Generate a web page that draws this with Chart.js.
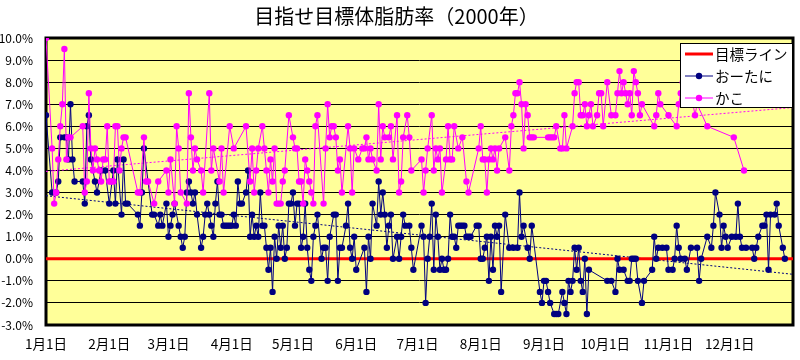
<!DOCTYPE html>
<html>
<head>
<meta charset="utf-8">
<script src="https://cdn.jsdelivr.net/npm/chart.js@4/dist/chart.umd.min.js"></script>
<style>
  html, body { margin: 0; padding: 0; background: #fff; }
</style>
</head>
<body>
<canvas id="fatChart" width="800" height="360"></canvas>
<script>
// x axis: day of year 2000 (0 = 1月1日)
const monthStartDays = [0, 31, 60, 91, 121, 152, 182, 213, 244, 274, 305, 335];
const monthLabels = ['1月1日', '2月1日', '3月1日', '4月1日', '5月1日', '6月1日',
                     '7月1日', '8月1日', '9月1日', '10月1日', '11月1日', '12月1日'];
const yTickMin = -3;
const yTickMax = 10;
const goalValue = 0; // 目標ライン

// おーたに
const otaniDays = [0, 3, 5, 6, 7, 9, 10, 11, 12, 13, 14, 18, 19, 20, 21, 22, 24, 25, 27, 29, 31, 33, 34, 35, 37, 38, 39, 40,
  45, 46, 47, 48, 52, 53, 55, 56, 57, 59, 60, 61, 62, 63, 65, 66, 67, 68, 69, 70, 71, 72, 73, 74, 76, 77, 78, 79, 80,
  81, 82, 83, 84, 85, 86, 87, 88, 89, 90, 91, 92, 93, 94, 95, 96, 98, 99, 100, 101, 102, 103, 104, 105, 106, 107, 108,
  109, 110, 111, 112, 113, 114, 115, 116, 117, 118, 119, 120, 121, 122, 123, 124, 125, 126, 127, 128, 129, 130, 131,
  132, 133, 135, 136, 137, 138, 139, 141, 142, 143, 144, 145, 147, 148, 149, 150, 151, 152, 156, 157, 158, 159, 160,
  162, 163, 164, 165, 166, 167, 168, 169, 170, 172, 173, 174, 175, 176, 178, 179, 180, 184, 185, 186, 187, 188, 189,
  190, 191, 192, 193, 194, 195, 196, 197, 198, 199, 200, 201, 202, 203, 204, 205, 206, 207, 208, 211, 212, 213, 214,
  215, 216, 217, 218, 219, 220, 221, 222, 223, 225, 227, 229, 231, 232, 233, 234, 236, 237, 238, 242, 243, 244, 245,
  246, 247, 249, 250, 251, 253, 254, 255, 256, 257, 258, 259, 260, 261, 262, 263, 264, 265, 266, 275, 277, 279, 280,
  281, 283, 285, 286, 287, 288, 289, 290, 292, 293, 297, 298, 299, 300, 302, 304, 305, 307, 308, 309, 310, 311, 313,
  314, 316, 319, 320, 321, 324, 326, 327, 328, 330, 331, 332, 333, 334, 336, 338, 339, 340, 341, 343, 346, 347, 348,
  349, 351, 352, 353, 354, 355, 357, 358, 359, 361, 362];
const otaniPct = [6.5, 3.0, 3.0, 3.5, 5.5, 5.5, 5.5, 4.5, 7.0, 4.5, 3.5, 3.5, 2.5, 6.0, 6.5, 4.5, 3.5, 3.0, 4.0, 4.0, 2.5, 4.0, 2.5, 4.5, 2.0, 4.5, 2.5, 2.5,
  2.0, 1.5, 3.0, 5.0, 2.0, 2.0, 1.5, 2.0, 1.5, 2.5, 1.0, 1.5, 2.0, 2.5, 1.5, 1.0, 0.5, 1.0, 3.0, 3.5, 3.0, 2.5, 3.0, 2.0, 0.5, 1.0, 2.0, 2.5, 2.0,
  1.5, 1.0, 2.5, 3.5, 2.0, 2.0, 1.5, 1.5, 1.5, 1.5, 1.5, 2.0, 1.5, 3.5, 2.5, 2.5, 3.0, 4.0, 1.0, 2.0, 1.0, 1.5, 1.0, 3.0, 1.5, 1.5, 0.5,
  -0.5, 0.5, -1.5, 1.0, 0.0, 1.5, 0.5, 1.5, 0.0, 0.5, 2.5, 2.5, 3.0, 1.5, 2.5, 2.5, 0.5, 1.0, 2.5, 0.5, -0.5, -1.0, 1.0,
  1.5, 2.0, 0.0, 0.5, 0.5, -1.0, 1.0, 2.0, 2.0, -1.0, 0.5, 0.5, 1.5, 2.5, 0.5, 0.0, 1.0, -0.5, 0.5, -1.5, 1.0, 0.0, 2.5,
  1.5, 3.5, 2.0, 3.0, 2.0, 0.5, 1.5, 2.0, 0.0, 1.0, 0.0, 1.0, 2.0, 1.5, 1.5, 0.5, -0.5, 1.5, 1.0, -2.0, 0.0, 1.0, 2.5,
  -0.5, 2.0, 1.0, -0.5, 0.0, -0.5, -0.5, 0.0, 2.0, 1.0, 1.0, 0.5, 1.5, 1.5, 1.5, 1.5, 1.0, 1.0, 1.0, 1.5, 1.5, 0.0, 0.0,
  0.5, 1.0, -1.0, 1.0, -0.5, 1.5, 1.0, 1.5, -1.5, 2.0, 0.5, 0.5, 0.5, 3.0, 1.0, 1.5, 0.5, 0.0, 1.5, -1.5, -2.0, -1.0, -1.0,
  -1.5, -2.0, -2.5, -2.5, -2.5, -1.5, -2.0, -2.5, -1.0, -1.5, -1.0, 0.5, -0.5, 0.5, -1.0, -1.5, 0.0, -2.5, -0.5, -1.0, -1.0, -1.5, 0.0,
  -0.5, -0.5, -1.0, -1.0, 0.0, 0.0, 0.0, -1.0, -2.0, -1.0, -0.5, 1.0, 0.0, 0.5, 0.5, 0.5, -0.5, -0.5, 0.0, 1.5, 0.5, 0.0, 0.0,
  -0.5, 0.5, 0.5, -1.0, 0.0, 1.0, 0.5, 1.5, 3.0, 2.0, 0.5, 1.5, 1.0, 0.5, 1.0, 1.0, 2.5, 1.0, 0.5, 0.5, 0.5, 0.0, 0.5,
  1.0, 1.5, 1.5, 2.0, -0.5, 2.0, 2.0, 2.5, 1.5, 0.5, 0.0];

// かこ
const kakoDays = [0, 3, 4, 5, 6, 7, 8, 9, 10, 11, 12, 18, 19, 20, 21, 22, 23, 24, 25, 26, 27, 28, 29, 30, 31, 32, 33, 34, 35,
  36, 37, 38, 39, 45, 46, 48, 49, 50, 53, 55, 59, 60, 61, 63, 64, 65, 66, 69, 70, 71, 72, 73, 74, 76, 77, 80, 81, 82,
  85, 86, 87, 90, 92, 98, 100, 101, 102, 103, 104, 106, 107, 108, 109, 110, 111, 112, 113, 114, 115, 116, 117, 119,
  121, 122, 123, 124, 125, 126, 127, 128, 129, 130, 131, 132, 133, 136, 137, 138, 139, 140, 141, 142, 143, 144, 145,
  148, 149, 150, 151, 153, 155, 156, 157, 158, 159, 160, 162, 163, 164, 165, 166, 168, 169, 170, 172, 173, 174, 175,
  177, 178, 179, 184, 185, 186, 187, 189, 190, 191, 192, 193, 194, 196, 197, 198, 199, 200, 202, 204, 206, 207, 212,
  213, 214, 215, 216, 217, 218, 219, 220, 221, 222, 225, 227, 228, 229, 230, 231, 232, 233, 234, 235, 236, 237, 238,
  239, 246, 247, 248, 249, 250, 252, 253, 254, 255, 258, 259, 260, 261, 262, 263, 264, 265, 266, 267, 268, 270, 271,
  272, 273, 275, 277, 279, 280, 281, 282, 283, 284, 285, 286, 287, 288, 289, 290, 291, 292, 298, 299, 300, 301, 305,
  309, 310, 311, 312, 315, 317, 318, 319, 324, 337, 342];
const kakoPct = [10.0, 5.0, 2.5, 3.0, 4.5, 6.0, 7.0, 9.5, 4.5, 5.5, 5.5, 6.0, 3.0, 3.5, 7.5, 5.0, 4.0, 5.0, 4.5, 4.0, 3.5, 4.5, 4.5, 6.0, 3.5, 3.5, 3.5, 6.0, 6.0,
  4.0, 5.0, 5.5, 5.5, 3.0, 3.0, 5.5, 3.5, 3.5, 2.5, 3.5, 4.0, 3.0, 4.5, 2.5, 6.0, 5.0, 3.0, 2.5, 7.5, 5.5, 4.0, 5.0, 4.5, 4.0, 3.0, 7.5, 4.0, 5.0,
  3.5, 5.0, 3.0, 6.0, 5.0, 6.0, 3.5, 5.0, 3.0, 4.0, 5.0, 6.0, 5.0, 4.0, 3.0, 4.5, 3.5, 5.0, 2.5, 2.5, 2.5, 3.5, 4.0, 6.5,
  5.5, 5.0, 5.0, 3.5, 3.5, 2.5, 4.5, 4.0, 3.5, 3.0, 2.5, 6.0, 6.5, 2.5, 5.0, 7.0, 5.5, 6.0, 6.0, 5.5, 4.0, 4.5, 3.0,
  6.0, 5.0, 3.0, 5.0, 4.5, 5.0, 5.0, 5.5, 4.5, 5.0, 4.5, 4.0, 7.0, 4.5, 6.0, 5.5, 5.5, 6.0, 4.5, 6.5, 3.0, 3.5, 5.5,
  6.5, 5.5, 4.0, 4.5, 3.0, 4.0, 5.0, 6.5, 4.0, 5.0, 4.5, 5.0, 3.0, 4.5, 6.0, 4.5, 4.5, 6.0, 5.0, 5.5, 3.5, 3.0, 5.0,
  6.0, 4.5, 4.5, 3.0, 4.5, 5.0, 4.5, 5.0, 4.0, 5.0, 5.5, 4.0, 6.0, 6.5, 7.5, 7.5, 8.0, 7.0, 5.0, 7.0, 6.5, 5.5, 5.5,
  5.5, 5.5, 5.5, 5.5, 5.5, 6.0, 5.0, 5.0, 6.5, 5.0, 6.0, 7.5, 8.0, 8.0, 6.5, 6.5, 7.0, 6.0, 6.5, 7.0, 6.0, 6.5, 7.5,
  7.5, 6.0, 8.0, 6.5, 6.5, 7.5, 8.5, 7.5, 8.0, 7.5, 7.0, 7.5, 6.5, 8.5, 8.0, 7.5, 6.5, 7.0, 6.0, 6.5, 7.5, 7.0, 6.5,
  6.0, 7.0, 7.5, 8.0, 7.5, 7.0, 6.5, 7.0, 6.0, 5.5, 4.0];

const NAVY = '#000080';
const MAGENTA = '#FF00FF';
const GOAL_RED = '#FF0000';

function toPoints(days, values) {
    return days.map((d, i) => ({ x: d, y: values[i] }));
}

// least squares trend line, drawn across the whole axis like Excel does
function trendPoints(days, values, x0, x1) {
    const n = days.length;
    let sx = 0, sy = 0, sxx = 0, sxy = 0;
    for (let i = 0; i < n; i++) {
        sx += days[i];
        sy += values[i];
        sxx += days[i] * days[i];
        sxy += days[i] * values[i];
    }
    const slope = (n * sxy - sx * sy) / (n * sxx - sx * sx);
    const icept = (sy - slope * sx) / n;
    return [{ x: x0, y: icept + slope * x0 }, { x: x1, y: icept + slope * x1 }];
}

const xMin = monthStartDays[0];
const xMax = 366;

const plotBackground = {
    id: 'plotBackground',
    beforeDraw(chart) {
        const { ctx, chartArea } = chart;
        ctx.save();
        ctx.fillStyle = '#ffffff';
        ctx.fillRect(0, 0, chart.width, chart.height);
        ctx.fillStyle = '#FFFF99';
        ctx.fillRect(chartArea.left, chartArea.top, chartArea.width, chartArea.height);
        ctx.restore();
    },
    beforeDatasetsDraw(chart) {
        const { ctx, chartArea } = chart;
        ctx.save();
        ctx.strokeStyle = '#000';
        ctx.lineWidth = 3;
        ctx.strokeRect(chartArea.left, chartArea.top, chartArea.width, chartArea.height);
        ctx.restore();
    }
};

// boxed legend inside the plot, top right
const boxLegend = {
    id: 'boxLegend',
    afterDraw(chart) {
        const ctx = chart.ctx;
        const items = chart.data.datasets
            .filter(ds => ds.legendRank !== undefined)
            .sort((a, b) => a.legendRank - b.legendRank);
        const x = 680, y = 43, w = 112, h = 64, rowH = 22;
        ctx.save();
        ctx.fillStyle = '#fff';
        ctx.fillRect(x, y, w, h);
        ctx.strokeStyle = '#000';
        ctx.lineWidth = 1;
        ctx.strokeRect(x + 0.5, y + 0.5, w, h);
        ctx.font = '14.5px "Noto Sans CJK JP", sans-serif';
        ctx.textBaseline = 'middle';
        items.forEach((ds, i) => {
            const cy = y + 11 + i * rowH;
            ctx.strokeStyle = ds.borderColor;
            ctx.lineWidth = ds.borderWidth;
            ctx.beginPath();
            ctx.moveTo(x + 5, cy);
            ctx.lineTo(x + 33, cy);
            ctx.stroke();
            if (ds.pointRadius > 0) {
                ctx.fillStyle = ds.borderColor;
                ctx.beginPath();
                ctx.arc(x + 19, cy, ds.pointRadius, 0, Math.PI * 2);
                ctx.fill();
            }
            ctx.fillStyle = '#000';
            ctx.fillText(ds.label, x + 35, cy + 0.5);
        });
        ctx.restore();
    }
};

Chart.defaults.font.family = '"Noto Sans CJK JP", "Noto Sans", sans-serif';
Chart.defaults.color = '#000';

const ctx = document.getElementById('fatChart').getContext('2d');
const fatChart = new Chart(ctx, {
    type: 'line',
    data: {
        datasets: [
            {
                label: 'かこ',
                data: toPoints(kakoDays, kakoPct),
                borderColor: MAGENTA,
                backgroundColor: MAGENTA,
                borderWidth: 1,
                pointRadius: 3.2,
                pointBorderWidth: 0,
                spanGaps: true,
                legendRank: 2,
                order: 1
            },
            {
                label: 'おーたに',
                data: toPoints(otaniDays, otaniPct),
                borderColor: NAVY,
                backgroundColor: NAVY,
                borderWidth: 1,
                pointRadius: 3.2,
                pointBorderWidth: 0,
                spanGaps: true,
                legendRank: 1,
                order: 2
            },
            {
                label: '目標ライン',
                data: [{ x: xMin, y: goalValue }, { x: xMax, y: goalValue }],
                borderColor: GOAL_RED,
                borderWidth: 3,
                pointRadius: 0,
                legendRank: 0,
                order: 3
            },
            {
                label: 'かこ trend',
                data: trendPoints(kakoDays, kakoPct, xMin, xMax),
                borderColor: MAGENTA,
                borderWidth: 1,
                borderDash: [2, 2],
                pointRadius: 0,
                order: 4
            },
            {
                label: 'おーたに trend',
                data: trendPoints(otaniDays, otaniPct, xMin, xMax),
                borderColor: NAVY,
                borderWidth: 1,
                borderDash: [2, 2],
                pointRadius: 0,
                order: 5
            }
        ]
    },
    options: {
        responsive: false,
        animation: false,
        devicePixelRatio: 1,
        layout: { padding: { left: 0, right: 7, top: 0, bottom: 0 } },
        elements: { line: { tension: 0 } },
        plugins: {
            legend: { display: false },
            tooltip: { enabled: false },
            title: {
                display: true,
                text: '目指せ目標体脂肪率（2000年）',
                font: { size: 20, weight: 'normal', lineHeight: 1.2 },
                color: '#000',
                padding: { top: 4, bottom: 10 }
            }
        },
        scales: {
            x: {
                type: 'linear',
                min: xMin,
                max: xMax,
                afterBuildTicks: (scale) => {
                    scale.ticks = monthStartDays.map(v => ({ value: v }));
                },
                afterFit: (scale) => { scale.height = 35; },
                ticks: {
                    autoSkip: false,
                    maxRotation: 0,
                    padding: 11,
                    font: { size: 13.5 },
                    callback: (value) => monthLabels[monthStartDays.indexOf(value)]
                },
                grid: { display: false, drawTicks: false },
                border: { display: false }
            },
            y: {
                min: yTickMin,
                max: yTickMax,
                afterFit: (scale) => { scale.width = 46; },
                ticks: {
                    stepSize: 1,
                    padding: 13,
                    font: { size: 12 },
                    callback: (value) => value.toFixed(1) + '%'
                },
                grid: { color: '#000', lineWidth: 1, drawTicks: false },
                border: { display: false }
            }
        }
    },
    plugins: [plotBackground, boxLegend]
});
</script>
</body>
</html>
